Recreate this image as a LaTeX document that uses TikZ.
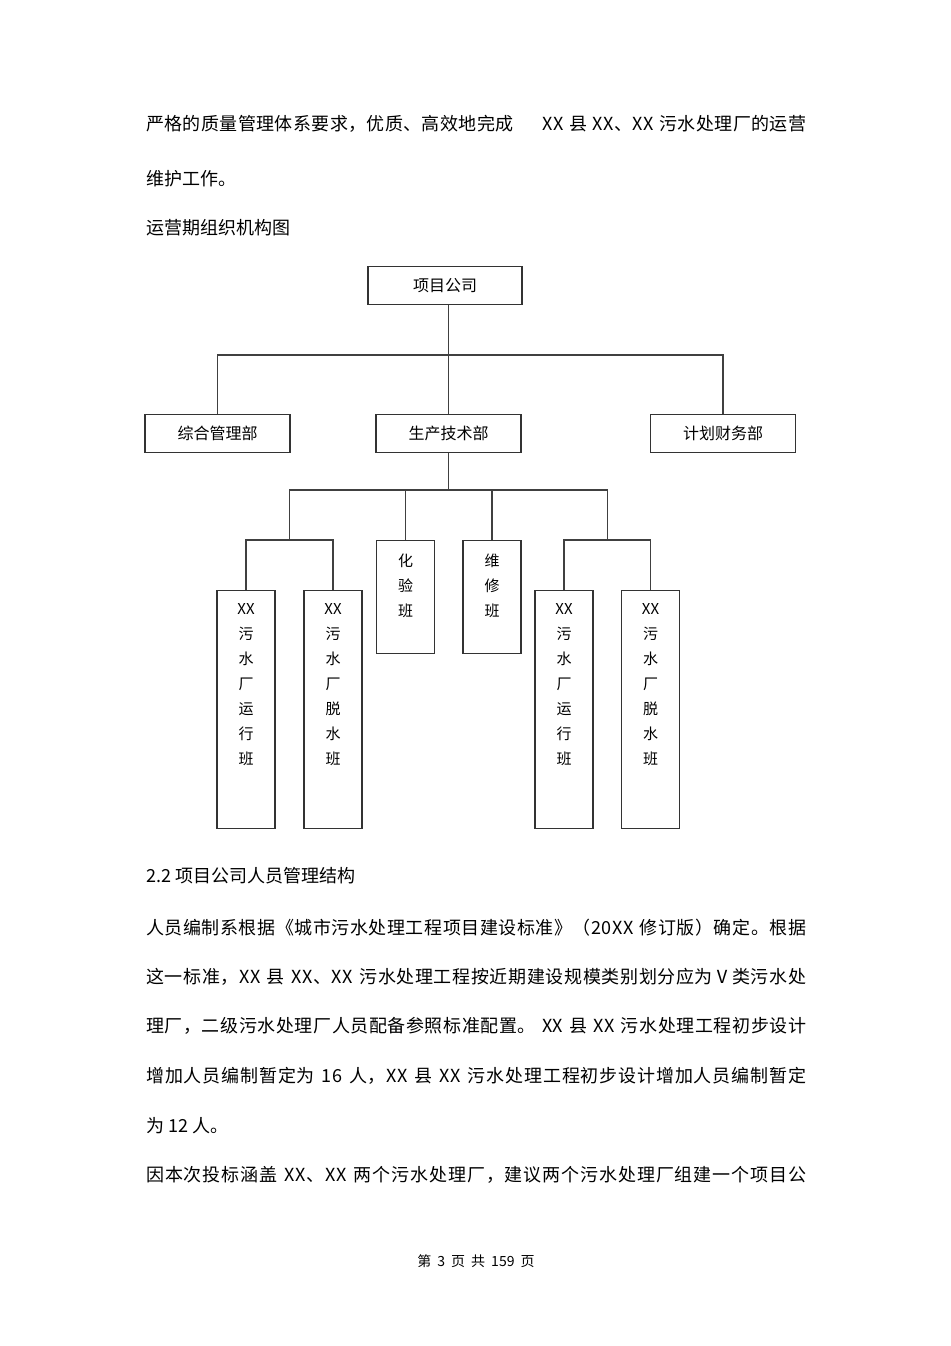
\documentclass[tikz,border=0pt]{standalone}
\usepackage{fontspec}
\setmainfont{Noto Sans CJK SC}
\usetikzlibrary{positioning}

% justified text line: glue between every two characters
\def\spreadA#1{\ifx#1\relax\else\hskip0pt plus 1pt#1\expandafter\spreadA\fi}
\def\spreadB#1{#1\spreadA}
\newcommand{\fullline}[1]{\makebox[660pt][s]{\spreadB#1\relax}}
\newcommand{\fs}{\hspace{5pt}}
\newcommand{\gapA}{\hspace{28pt}}
% stacked text of the team boxes
\newcommand{\banlabel}[2]{\parbox[c][#1pt][t]{56pt}{\centering\fontsize{15}{25}\selectfont\vspace*{13pt}#2}}

\begin{document}
\begin{tikzpicture}[x=1pt,y=1pt,yscale=-1,
    box/.style={draw=black!80,line width=1.2pt,inner sep=0pt},
    dept/.style={box,minimum width=145pt,minimum height=38pt,font=\fontsize{16}{18}\selectfont},
    ban/.style={box,anchor=north,minimum width=58pt},
    conn/.style={draw=black!75,line width=1.2pt},
    body/.style={anchor=base west,inner sep=0pt,font=\fontsize{18}{18}\selectfont}]
    %page
    \fill[white] (0,0) rectangle (950,1346);
    \useasboundingbox (0,0) rectangle (950,1346);

    % Text Node
    \node[body] (l1) at (146,130) {\fullline{严格的质量管理体系要求，优质、高效地完成\gapA XX\fs 县\fs XX、XX\fs 污水处理厂的运营}};
    % Text Node
    \node[body] (l2) at (146,185) {维护工作。};
    % Text Node
    \node[body] (l3) at (146,234) {运营期组织机构图};

    %Shape: Rectangle
    \node[dept,minimum width=154pt] (xmgs) at (445,285.5) {项目公司};
    %Shape: Rectangle
    \node[dept] (zhgl) at (217.5,433.5) {综合管理部};
    %Shape: Rectangle
    \node[dept] (scjs) at (448.5,433.5) {生产技术部};
    %Shape: Rectangle
    \node[dept] (jhcw) at (723,433.5) {计划财务部};

    %Shape: Rectangle
    \node[ban] (yx1) at (246,590) {\banlabel{238}{XX\\污\\水\\厂\\运\\行\\班}};
    %Shape: Rectangle
    \node[ban] (ts1) at (333,590) {\banlabel{238}{XX\\污\\水\\厂\\脱\\水\\班}};
    %Shape: Rectangle
    \node[ban] (hy) at (405.5,540) {\banlabel{113}{化\\验\\班}};
    %Shape: Rectangle
    \node[ban] (wx) at (492,540) {\banlabel{113}{维\\修\\班}};
    %Shape: Rectangle
    \node[ban] (yx2) at (564,590) {\banlabel{238}{XX\\污\\水\\厂\\运\\行\\班}};
    %Shape: Rectangle
    \node[ban] (ts2) at (650.5,590) {\banlabel{238}{XX\\污\\水\\厂\\脱\\水\\班}};

    %Connectors
    \coordinate (bus1) at (448.5,355);
    \coordinate (bus2) at (448.5,490);
    \coordinate (lb) at (289.5,540);
    \coordinate (rb) at (607.25,540);
    \draw[conn] (scjs.north) -- (scjs.north |- xmgs.south);
    \draw[conn] (zhgl.north) |- (bus1) -| (jhcw.north);
    \draw[conn] (scjs.south) -- (bus2);
    \draw[conn] (lb) |- (bus2) -| (rb);
    \draw[conn] (hy.north) -- (hy.north |- bus2);
    \draw[conn] (wx.north) -- (wx.north |- bus2);
    \draw[conn] (yx1.north) |- (lb) -| (ts1.north);
    \draw[conn] (yx2.north) |- (rb) -| (ts2.north);

    % Text Node
    \node[body] (l4) at (146,882) {2.2 项目公司人员管理结构};
    % Text Node
    \node[body] (l5) at (146,934) {\fullline{人员编制系根据《城市污水处理工程项目建设标准》（20XX\fs 修订版）确定。根据}};
    % Text Node
    \node[body] (l6) at (146,983) {\fullline{这一标准，XX\fs 县\fs XX、XX\fs 污水处理工程按近期建设规模类别划分应为Ⅴ类污水处}};
    % Text Node
    \node[body] (l7) at (146,1032) {\fullline{理厂，二级污水处理厂人员配备参照标准配置。\fs XX\fs 县\fs XX\fs 污水处理工程初步设计}};
    % Text Node
    \node[body] (l8) at (146,1082) {\fullline{增加人员编制暂定为\fs 16\fs 人，XX\fs 县\fs XX\fs 污水处理工程初步设计增加人员编制暂定}};
    % Text Node
    \node[body] (l9) at (146,1132) {为 12 人。};
    % Text Node
    \node[body] (l10) at (146,1181) {\fullline{因本次投标涵盖\fs XX、XX\fs 两个污水处理厂，建议两个污水处理厂组建一个项目公}};

    % Text Node
    \node[anchor=base,inner sep=0pt,font=\fontsize{14}{14}\selectfont] (foot) at (476,1266) {第\hspace{6pt}3\hspace{6pt}页\hspace{6pt}共\hspace{6pt}159\hspace{6pt}页};
\end{tikzpicture}
\end{document}
